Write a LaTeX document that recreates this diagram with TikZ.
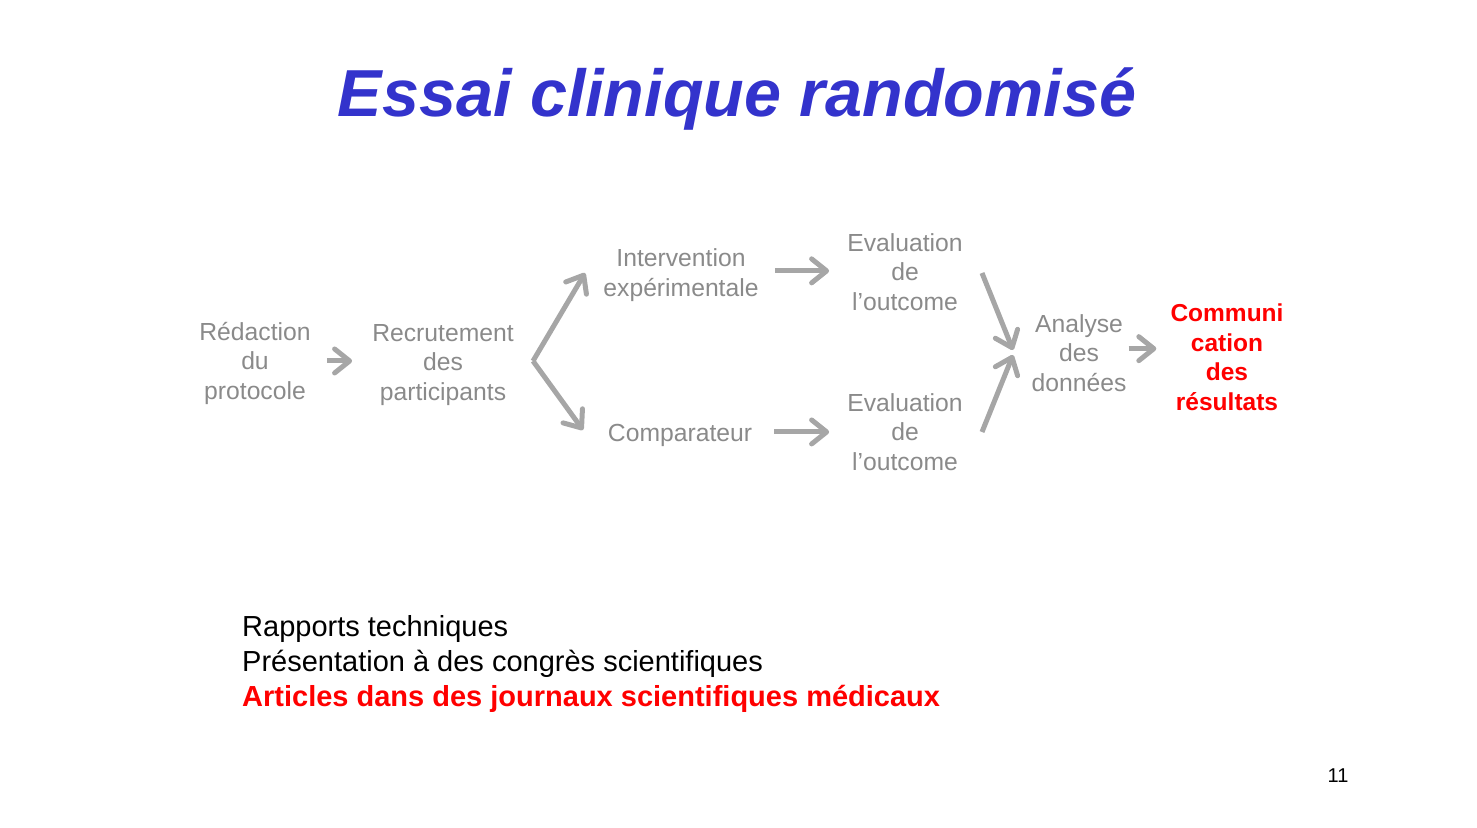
\documentclass[tikz,border=0pt]{standalone}
\usepackage{fontspec}
\setmainfont{Liberation Sans}
\usetikzlibrary{arrows.meta}
\definecolor{titleblue}{RGB}{51,51,204}
\definecolor{textgrey}{RGB}{138,138,138}
\definecolor{linegrey}{RGB}{166,166,166}
\definecolor{redcom}{RGB}{255,0,0}
\tikzset{
  stage/.style={text=textgrey,align=center,inner sep=0pt,anchor=base,
    font=\fontsize{24.7}{29.5}\selectfont},
  flow/.style={draw=linegrey,line width=5pt,
    -{Straight Barb[length=15pt,width=24pt,line cap=round,line join=round]}}
}
\begin{document}
\begin{tikzpicture}[x=1pt,y=-1pt]
\useasboundingbox (0,0) rectangle (1477,827);

%Titre
\node (titre) [anchor=base,text=titleblue,font=\fontsize{66.5}{80}\selectfont\bfseries\itshape]
  at (737,116) {Essai clinique randomisé};

%Etapes (base = derniere ligne)
\node[stage] (redac) at (255,399) {Rédaction\\du\\protocole};
\node[stage] (recrut) at (443,400) {Recrutement\\des\\participants};
\node[stage] (interv) at (681,296) {Intervention\\expérimentale};
\node[stage] (comp) at (680,441) {Comparateur};
\node[stage] (evalA) at (905,310) {Evaluation\\de\\l’outcome};
\node[stage] (evalB) at (905,470) {Evaluation\\de\\l’outcome};
\node[stage] (analyse) at (1079,391) {Analyse\\des\\données};
\node[stage,text=redcom,font=\fontsize{24.5}{29.5}\selectfont\bfseries] (commun)
  at (1227,410) {Communi\\cation\\des\\résultats};

%Fleches
\coordinate (split) at (533,361);
\coordinate (interv-in) at (585,273);
\coordinate (comp-in) at (583,430);
\coordinate (evalA-out) at (982,273);
\coordinate (evalB-out) at (982,432);
\coordinate (analyse-inA) at (1013,350);
\coordinate (analyse-inB) at (1013,355);

\draw[flow,shorten <=16pt,shorten >=20pt] ([yshift=2pt]redac.east) -- ([yshift=2pt]redac.east -| recrut.west);
\draw[flow] (split) -- (interv-in);
\draw[flow] (split) -- (comp-in);
\draw[flow,shorten <=16pt,shorten >=18pt] ([yshift=4pt]interv.east) -- ([yshift=4pt]interv.east -| evalA.west);
\draw[flow,shorten <=22pt,shorten >=18pt] ([yshift=3pt]comp.east) -- ([yshift=3pt]comp.east -| evalB.west);
\draw[flow] (evalA-out) -- (analyse-inA);
\draw[flow] (evalB-out) -- (analyse-inB);
\draw[flow,shorten <=2pt,shorten >=14pt] ([yshift=4pt]analyse.east) -- ([yshift=4pt]analyse.east -| commun.west);

%Diffusion
\node (diffusion) [anchor=base west,align=left,inner sep=0pt,font=\fontsize{29}{35}\selectfont]
  at (242,706) {Rapports techniques\\Présentation à des congrès scientifiques\\
  \textcolor{redcom}{\bfseries Articles dans des journaux scientifiques médicaux}};

\node (page) [anchor=base,font=\fontsize{20}{24}\selectfont] at (1338,782) {11};

\end{tikzpicture}
\end{document}
